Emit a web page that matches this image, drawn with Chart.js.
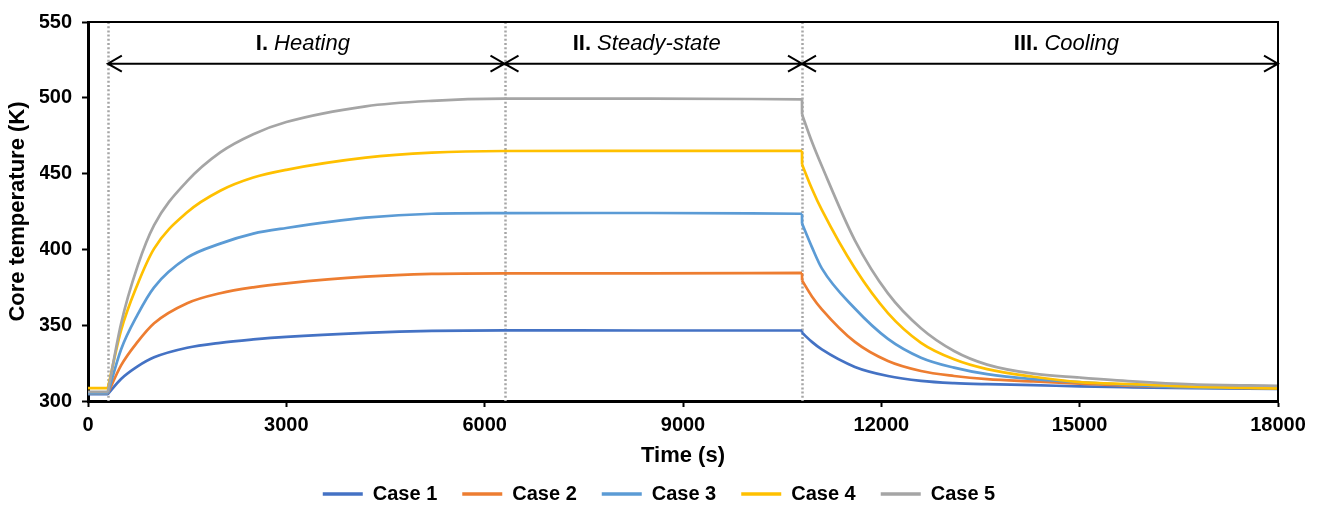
<!DOCTYPE html>
<html>
<head>
<meta charset="utf-8">
<script src="https://cdn.jsdelivr.net/npm/chart.js@4/dist/chart.umd.min.js"></script>
<style>
  html, body { margin: 0; padding: 0; background: #fff; }
  canvas { display: block; }
</style>
</head>
<body>
<canvas id="c" width="1318" height="509"></canvas>
<script>
// ---- Data; null marks a break in the curve ----
const TIME = [0, 300, 300, 300, 500, 750, 1000, 1500, 2000, 2500, 3000, 4200, 5200, 6300, 8500, 10800,
              10800, 10800, 10801, 10801, 10801, 10950, 11100, 11600, 12100, 12600, 13100, 13600, 14300, 15000, 15800, 16700, 18000];

const CASE1 = [304.5, 304.5, null, 304.5, 314.5, 322.8, 328.8, 335.1, 338.4, 340.6, 342.3, 344.9, 346.2, 346.6, 346.5, 346.5,
               null, 346.5, 345, null, 345, 339, 334, 322.5, 316.5, 313.3, 311.8, 311.1, 310.5, 309.6, 309, 308.5, 308];
const CASE2 = [305, 305, null, 305, 323.5, 339, 351.3, 364.5, 371.1, 375, 377.6, 382, 383.8, 384.2, 384.2, 384.5,
               null, 384.5, 379.5, null, 379.5, 369, 360.5, 339, 326.4, 319.8, 316.5, 314.4, 312.9, 311.5, 310, 309, 308.5];
const CASE3 = [305, 305, null, 305, 334, 357, 375, 394.5, 403.8, 410.4, 414.1, 420.9, 423.5, 423.9, 424, 423.5,
               null, 423.5, 417, null, 417, 401.5, 387.5, 361, 341, 328.6, 322, 317.7, 314.4, 312.5, 310.5, 309, 308.5];
const CASE4 = [308.5, 308.5, null, 308.5, 346.5, 377, 400.5, 424.5, 438.7, 447.4, 452.5, 460.5, 463.8, 464.9, 465, 465,
               null, 465, 456, null, 456, 440, 426, 387.5, 358, 338.4, 327.5, 321, 316, 312.5, 311.1, 309.5, 308.3];
const CASE5 = [306, 306, null, 306, 351, 389, 416, 445, 464, 476, 484, 494.4, 498, 499.4, 499.5, 499,
               null, 499, 489, null, 489, 471, 455, 406, 371, 348, 333, 324, 318, 315.5, 313, 311, 310];

const SERIES_NAMES = ['Case 1', 'Case 2', 'Case 3', 'Case 4', 'Case 5'];
const SERIES_COLORS = ['#4472C4', '#ED7D31', '#5B9BD5', '#FFC000', '#A5A5A5'];

const X_TICKS = [0, 3000, 6000, 9000, 12000, 15000, 18000];
const Y_TICKS = [300, 350, 400, 450, 500, 550];

// Phase annotation data
const PHASE_BOUNDS = [300, 6300, 10800, 18000];
const PHASE_NUMS = ['I.', 'II.', 'III.'];
const PHASE_NAMES = ['Heating', 'Steady-state', 'Cooling'];
const PHASE_LABEL_X = [3250, 8450, 14800];
const PHASE_ARROW_Y = 522.5;
const PHASE_LABEL_Y = 535.5;

// ---- build datasets ----
const SERIES = [CASE1, CASE2, CASE3, CASE4, CASE5];
const datasets = SERIES.map((vals, i) => ({
  label: SERIES_NAMES[i],
  data: TIME.map((t, k) => ({ x: t, y: vals[k] })),
  borderColor: SERIES_COLORS[i],
  backgroundColor: SERIES_COLORS[i],
  borderWidth: 2.7,
  pointRadius: 0,
  cubicInterpolationMode: 'monotone',
  spanGaps: false,
  order: 5 - i
}));

const FONT = "'Liberation Sans', Arial, sans-serif";
Chart.defaults.font.family = FONT;
Chart.defaults.color = '#000';

const annot = {
  id: 'phaseAnnot',
  beforeDatasetsDraw(chart) {
    const { ctx, chartArea: ca, scales: { x } } = chart;
    ctx.save();
    ctx.strokeStyle = '#A6A6A6';
    ctx.lineWidth = 2.5;
    ctx.setLineDash([2, 2.2]);
    PHASE_BOUNDS.slice(0, 3).forEach(t => {
      const px = Math.round(x.getPixelForValue(t)) + 0.5;
      ctx.beginPath();
      ctx.moveTo(px, ca.top);
      ctx.lineTo(px, ca.bottom);
      ctx.stroke();
    });
    ctx.restore();
  },
  afterDatasetsDraw(chart) {
    const { ctx, chartArea: ca, scales: { x, y } } = chart;
    ctx.save();
    ctx.strokeStyle = '#000';
    ctx.lineWidth = 2;
    ctx.beginPath();
    ctx.moveTo(ca.left, ca.top);
    ctx.lineTo(ca.right, ca.top);
    ctx.lineTo(ca.right, ca.bottom);
    ctx.stroke();

    const ay = y.getPixelForValue(PHASE_ARROW_Y);
    const hl = 14, hw = 8;
    ctx.lineWidth = 2;
    for (let i = 0; i < 3; i++) {
      const x1 = x.getPixelForValue(PHASE_BOUNDS[i]);
      const x2 = x.getPixelForValue(PHASE_BOUNDS[i + 1]);
      ctx.beginPath();
      ctx.moveTo(x1, ay); ctx.lineTo(x2, ay);
      ctx.moveTo(x1 + hl, ay - hw); ctx.lineTo(x1, ay); ctx.lineTo(x1 + hl, ay + hw);
      ctx.moveTo(x2 - hl, ay - hw); ctx.lineTo(x2, ay); ctx.lineTo(x2 - hl, ay + hw);
      ctx.stroke();
    }
    const ly = y.getPixelForValue(PHASE_LABEL_Y);
    ctx.fillStyle = '#000';
    ctx.textBaseline = 'middle';
    for (let i = 0; i < 3; i++) {
      const boldF = "bold 22px " + FONT;
      const itF = "italic 22px " + FONT;
      ctx.font = boldF;
      const a = PHASE_NUMS[i] + ' ';
      const wa = ctx.measureText(a).width;
      ctx.font = itF;
      const wb = ctx.measureText(PHASE_NAMES[i]).width;
      const cx = x.getPixelForValue(PHASE_LABEL_X[i]);
      const sx = cx - (wa + wb) / 2;
      ctx.font = boldF;
      ctx.textAlign = 'left';
      ctx.fillText(a, sx, ly);
      ctx.font = itF;
      ctx.fillText(PHASE_NAMES[i], sx + wa, ly);
    }
    ctx.restore();
  }
};

const defaultLabels = Chart.defaults.plugins.legend.labels.generateLabels;

new Chart(document.getElementById('c'), {
  type: 'line',
  data: { datasets },
  plugins: [annot],
  options: {
    responsive: false,
    devicePixelRatio: 1,
    animation: false,
    layout: { padding: { top: 18, right: 40, left: 40, bottom: -5 } },
    plugins: {
      tooltip: { enabled: false },
      legend: {
        position: 'bottom',
        labels: {
          usePointStyle: true,
          pointStyle: 'line',
          pointStyleWidth: 40,
          padding: 25,
          color: '#000',
          font: { size: 20, weight: 'bold' },
          sort: (a, b) => a.datasetIndex - b.datasetIndex,
          generateLabels: chart => defaultLabels(chart).map(l => Object.assign(l, { lineWidth: 3.6 }))
        }
      }
    },
    scales: {
      x: {
        type: 'linear',
        min: 0, max: 18000,
        afterBuildTicks: s => { s.ticks = X_TICKS.map(v => ({ value: v })); },
        afterFit: s => { s.height = 58; },
        ticks: { font: { size: 20, weight: 'bold' }, color: '#000', padding: 6, maxRotation: 0, callback: v => String(v) },
        grid: { drawOnChartArea: false, drawTicks: true, tickLength: 6, color: '#000', tickWidth: 2 },
        border: { display: true, color: '#000', width: 3 },
        title: { display: true, text: 'Time (s)', font: { size: 22, weight: 'bold' }, color: '#000', padding: { top: 0, bottom: -10.2 } }
      },
      y: {
        type: 'linear',
        min: 300, max: 550,
        afterBuildTicks: s => { s.ticks = Y_TICKS.map(v => ({ value: v })); },
        afterFit: s => { s.width = 48; },
        ticks: { font: { size: 20, weight: 'bold' }, color: '#000', padding: 10, callback: v => String(v) },
        grid: { drawOnChartArea: false, drawTicks: true, tickLength: 6, color: '#000', tickWidth: 2 },
        border: { display: true, color: '#000', width: 3 },
        title: { display: true, text: 'Core temperature (K)', font: { size: 22, weight: 'bold' }, color: '#000', padding: { top: -35.2, bottom: 0 } }
      }
    }
  }
});
</script>
</body>
</html>
